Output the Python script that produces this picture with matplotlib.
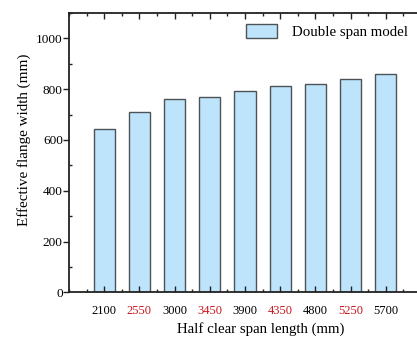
import matplotlib.pyplot as plt
from matplotlib.ticker import MultipleLocator
from matplotlib.patches import Patch

plt.rcParams['font.family'] = ['Liberation Serif', 'DejaVu Serif']

spans = ['2100', '2550', '3000', '3450', '3900', '4350', '4800', '5250', '5700']
widths = [644, 710, 760, 769, 793, 814, 822, 839, 858]
label_colors = ['black', '#c8171e'] * 4 + ['black']

fig = plt.figure(figsize=(4.17, 3.38), dpi=100)
ax = fig.add_axes([0.1655, 0.135, 0.844, 0.8265])

pos = list(range(1, len(spans) + 1))
ax.bar(pos, widths, width=0.6, color='#bde4fa', edgecolor='#4d5258', linewidth=1.0)

ax.set_xlim(0, 10)
ax.set_ylim(0, 1100)
ax.set_xticks(pos)
ax.set_xticklabels(spans, fontsize=9)
for lab, c in zip(ax.get_xticklabels(), label_colors):
    lab.set_color(c)
ax.xaxis.set_minor_locator(MultipleLocator(0.5))
ax.yaxis.set_major_locator(MultipleLocator(200))
ax.yaxis.set_minor_locator(MultipleLocator(100))
ax.tick_params(axis='y', labelsize=9.5, pad=0.5)
ax.tick_params(which='both', direction='in', top=True, right=True, width=1.0, color='#222222')
ax.tick_params(axis='y', which='major', left=True, direction='out')
ax.tick_params(which='major', length=4)
ax.tick_params(which='minor', length=2)
ax.tick_params(axis='x', which='major', pad=9)
for s in ax.spines.values():
    s.set_linewidth(1.3)
    s.set_color('#222222')

ax.set_xlabel('Half clear span length (mm)', fontsize=10.7)
ax.set_ylabel('Effective flange width (mm)', fontsize=10.9)
ax.xaxis.set_label_coords(0.544, -0.106)
ax.yaxis.set_label_coords(-0.108, 0.545)

handle = Patch(facecolor='#bde4fa', edgecolor='#4d5258', linewidth=1.0)
ax.legend([handle], ['Double span model'], loc='upper right', bbox_to_anchor=(1.0, 1.008),
          frameon=False, fontsize=10.7, handlelength=2.15, handleheight=1.1, handletextpad=0.95)

fig.savefig('out.png', dpi=100)
